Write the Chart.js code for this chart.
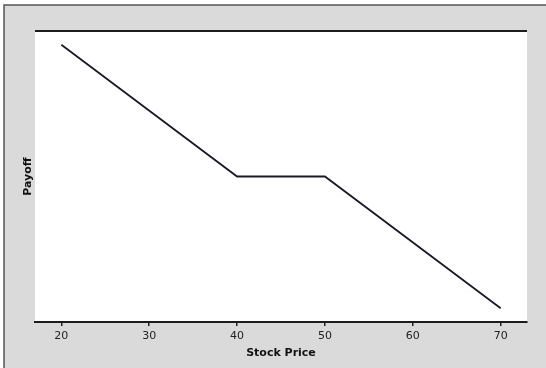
<!DOCTYPE html>
<html>
<head>
<meta charset="utf-8">
<script src="https://cdn.jsdelivr.net/npm/chart.js@4.4.1/dist/chart.umd.min.js"></script>
<style>
  html, body { margin: 0; padding: 0; background: #ffffff; }
  #wrap { width: 546px; height: 368px; position: relative; }
</style>
</head>
<body>
<div id="wrap"><canvas id="c" width="546" height="368"></canvas></div>
<script>
// Data
const stockPrices = [20, 40, 50, 70];
const payoffs = [40, 20, 20, 0];
const xTickValues = [20, 30, 40, 50, 60, 70];
const xTitle = 'Stock Price';
const yTitle = 'Payoff';

const framePlugin = {
  id: 'frame',
  beforeDraw(chart) {
    const ctx = chart.ctx;
    const W = chart.width, H = chart.height;
    const a = chart.chartArea;
    ctx.save();
    ctx.fillStyle = '#ffffff';
    ctx.fillRect(0, 0, W, H);
    ctx.fillStyle = '#dadada';
    ctx.fillRect(4, 5, W - 4, H - 5);
    ctx.strokeStyle = '#555555';
    ctx.lineWidth = 1.5;
    ctx.beginPath();
    ctx.moveTo(4, H);
    ctx.lineTo(4, 5);
    ctx.lineTo(W, 5);
    ctx.stroke();
    ctx.fillStyle = '#ffffff';
    ctx.fillRect(a.left, a.top, a.right - a.left, a.bottom - a.top);
    ctx.strokeStyle = '#1c1c1c';
    ctx.lineWidth = 2;
    ctx.beginPath();
    ctx.moveTo(a.left, a.top);
    ctx.lineTo(a.right, a.top);
    ctx.stroke();
    ctx.restore();
  }
};

new Chart(document.getElementById('c'), {
  type: 'line',
  data: {
    datasets: [{
      data: stockPrices.map((x, i) => ({ x: x, y: payoffs[i] })),
      borderColor: '#1a1a2a',
      borderWidth: 1.8,
      pointRadius: 0,
      tension: 0,
      fill: false
    }]
  },
  options: {
    responsive: false,
    animation: false,
    devicePixelRatio: 1,
    layout: { padding: { top: 31, right: 19, bottom: 8, left: 0 } },
    plugins: { legend: { display: false }, tooltip: { enabled: false } },
    scales: {
      x: {
        type: 'linear',
        min: 17,
        max: 73,
        afterBuildTicks(scale) { scale.ticks = xTickValues.map(v => ({ value: v })); },
        afterFit(scale) { scale.height = 38; },
        grid: { display: true, drawOnChartArea: false, drawTicks: true, tickLength: 4, color: '#222222', lineWidth: 1.5 },
        border: { display: true, color: '#1c1c1c', width: 2 },
        ticks: { color: '#222222', font: { family: 'DejaVu Sans', size: 11 }, padding: 4, maxRotation: 0 },
        title: { display: true, text: xTitle, color: '#111111', font: { family: 'DejaVu Sans', size: 11, weight: 'bold' }, padding: { top: 2, bottom: 0 } }
      },
      y: {
        type: 'linear',
        min: -2.1,
        max: 42.1,
        afterFit(scale) { scale.width = 35; },
        grid: { display: false },
        border: { display: false },
        ticks: { display: false },
        title: { display: true, text: yTitle, color: '#111111', font: { family: 'DejaVu Sans', size: 11, weight: 'bold' }, padding: { top: 22, bottom: 0 } }
      }
    }
  },
  plugins: [framePlugin]
});
</script>
</body>
</html>
